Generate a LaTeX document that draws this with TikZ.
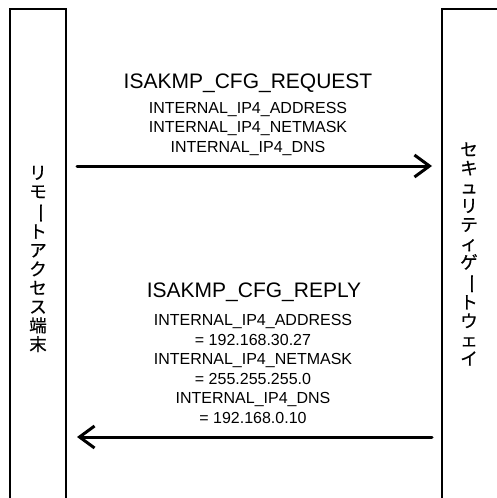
\documentclass[tikz,border=0pt]{standalone}
\usepackage{fontspec}
\setmainfont{Liberation Sans}
\newfontfamily\cjk[FakeBold=0.6]{Noto Sans CJK JP}
\newcommand{\vbar}{\rotatebox[origin=c]{-90}{\scalebox{1.2}[1]{ー}}}
\usetikzlibrary{arrows.meta}
\begin{document}
\begin{tikzpicture}[x=1pt,y=-1pt,
  boxline/.style={line width=1.8pt,line join=miter},
  msg/.style={line width=3pt,line cap=round,-{Straight Barb[length=15pt,width=22pt]}},
  title/.style={font=\fontsize{21}{25}\selectfont,anchor=base,inner sep=0pt},
  sub/.style={font=\fontsize{16}{19.5}\selectfont,anchor=base,inner sep=0pt},
  vlabel/.style={font=\cjk\fontsize{17.5}{18.8}\selectfont,align=center,inner sep=0pt}]
\useasboundingbox (0,0) rectangle (497,498);
% boxes
\draw[boxline] (10,498) -- (10,9) -- (66,9) -- (66,498);
\draw[boxline] (442,498) -- (442,9) -- (497,9);
% vertical labels
\node[vlabel] (left) at (38,259) {リ\\モ\\\vbar\\ト\\ア\\ク\\セ\\ス\\端\\末};
\node[vlabel] (right) at (469,254) {セ\\キ\\ュ\\リ\\テ\\ィ\\ゲ\\\vbar\\ト\\ウ\\ェ\\イ};
% connector ends
\coordinate (a1s) at (77,166);
\coordinate (a1e) at (432,166);
\coordinate (a2s) at (432,437);
\coordinate (a2e) at (77,437);
\draw[msg] (a1s) -- (a1e);
\draw[msg] (a2s) -- (a2e);
% request text
\node[title] (reqt) at (248,88) {ISAKMP\_CFG\_REQUEST};
\node[sub] (req1) at (248,113) {INTERNAL\_IP4\_ADDRESS};
\node[sub] (req2) at (248,132.7) {INTERNAL\_IP4\_NETMASK};
\node[sub] (req3) at (248,152.4) {INTERNAL\_IP4\_DNS};
% reply text
\node[title] (rept) at (254,297) {ISAKMP\_CFG\_REPLY};
\node[sub] (rep1) at (253,325.7) {INTERNAL\_IP4\_ADDRESS};
\node[sub] (rep2) at (253,345.2) {= 192.168.30.27};
\node[sub] (rep3) at (253,364.7) {INTERNAL\_IP4\_NETMASK};
\node[sub] (rep4) at (253,384.2) {= 255.255.255.0};
\node[sub] (rep5) at (253,403.7) {INTERNAL\_IP4\_DNS};
\node[sub] (rep6) at (253,423.2) {= 192.168.0.10};
\end{tikzpicture}
\end{document}
